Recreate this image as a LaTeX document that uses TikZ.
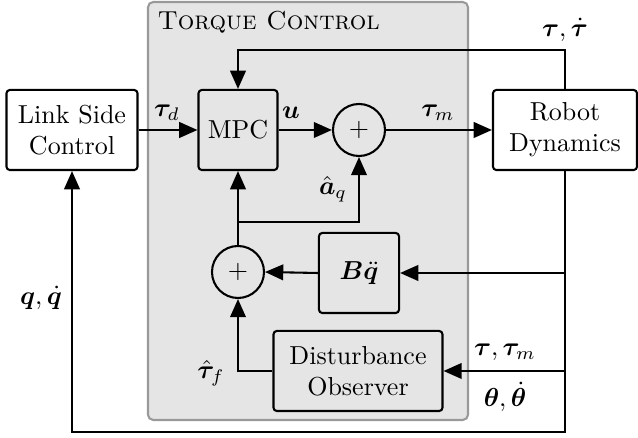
\documentclass[tikz,border=0pt]{standalone}
\usepackage{amsmath}
\usepackage{bm}
\usetikzlibrary{arrows.meta}
\tikzset{
  blk/.style={draw, line width=0.8pt, rounded corners=1.3pt, align=center, inner sep=0pt, minimum height=30.8pt},
  sumc/.style={draw, circle, line width=0.8pt, inner sep=0pt, minimum size=20pt},
  arr/.style={line width=0.8pt, -{Triangle[length=7pt,width=6pt]}},
  ln/.style={line width=0.8pt},
  lbl/.style={inner sep=0pt}
}
\begin{document}
\begin{tikzpicture}[x=0.3846pt,y=-0.3846pt]
\useasboundingbox (0,0) rectangle (638,438);
% torque control region
\draw[fill=black!10, draw=black!40, line width=0.8pt, rounded corners=2pt] (148,2) rectangle (468,420);
\node[lbl, anchor=base west] (tctitle) at (157,30) {\textsc{Torque Control}};
% blocks
\node[blk, fill=white, minimum width=50.4pt] (lsc) at (72,130) {Link Side\\Control};
\node[blk, minimum width=30.4pt] (mpc) at (238,130) {MPC};
\node[sumc] (sum1) at (359,130) {$+$};
\node[blk, fill=white, minimum width=55.4pt] (rd) at (565,130) {Robot\\Dynamics};
\node[blk, minimum width=30.8pt] (bq) at (359,273) {$\bm{B}\ddot{\bm{q}}$};
\node[sumc] (sum2) at (238,272) {$+$};
\node[blk, minimum width=65pt] (dob) at (358,371) {Disturbance\\Observer};
% helper coordinates
\coordinate (topy) at (0,50);
\coordinate (branch) at (238,222);
\coordinate (boty) at (0,432);
% connectors
\draw[arr] (lsc.east) -- (mpc.west);
\draw[arr] (mpc.east) -- (sum1.west);
\draw[arr] (sum1.east) -- (rd.west);
\draw[arr] (rd.north) -- (rd.north |- topy) -| (mpc.north);
\draw[arr] (sum2.north) -- (mpc.south);
\draw[arr] (branch) -| (sum1.south);
\draw[arr] (bq.west) -- (sum2.east);
\draw[arr] (dob.west) -| (sum2.south);
\draw[arr] (rd.south) -- (rd.south |- boty) -| (lsc.south);
\draw[arr] (rd.south |- bq.east) -- (bq.east);
\draw[arr] (rd.south |- dob.east) -- (dob.east);
% labels
\node[lbl] (ltaud) at (167,113) {$\bm{\tau}_d$};
\node[lbl] (lu) at (291,113) {$\bm{u}$};
\node[lbl] (ltaum) at (438,113) {$\bm{\tau}_m$};
\node[lbl] (laq) at (333,189) {$\hat{\bm{a}}_q$};
\node[lbl] (ltautd) at (565,30) {$\bm{\tau},\dot{\bm{\tau}}$};
\node[lbl] (ltauf) at (211,373) {$\hat{\bm{\tau}}_f$};
\node[lbl] (ltt) at (505,352) {$\bm{\tau},\bm{\tau}_m$};
\node[lbl] (lth) at (505,397) {$\bm{\theta},\dot{\bm{\theta}}$};
\node[lbl] (lq) at (41,298) {$\bm{q},\dot{\bm{q}}$};
\end{tikzpicture}
\end{document}
